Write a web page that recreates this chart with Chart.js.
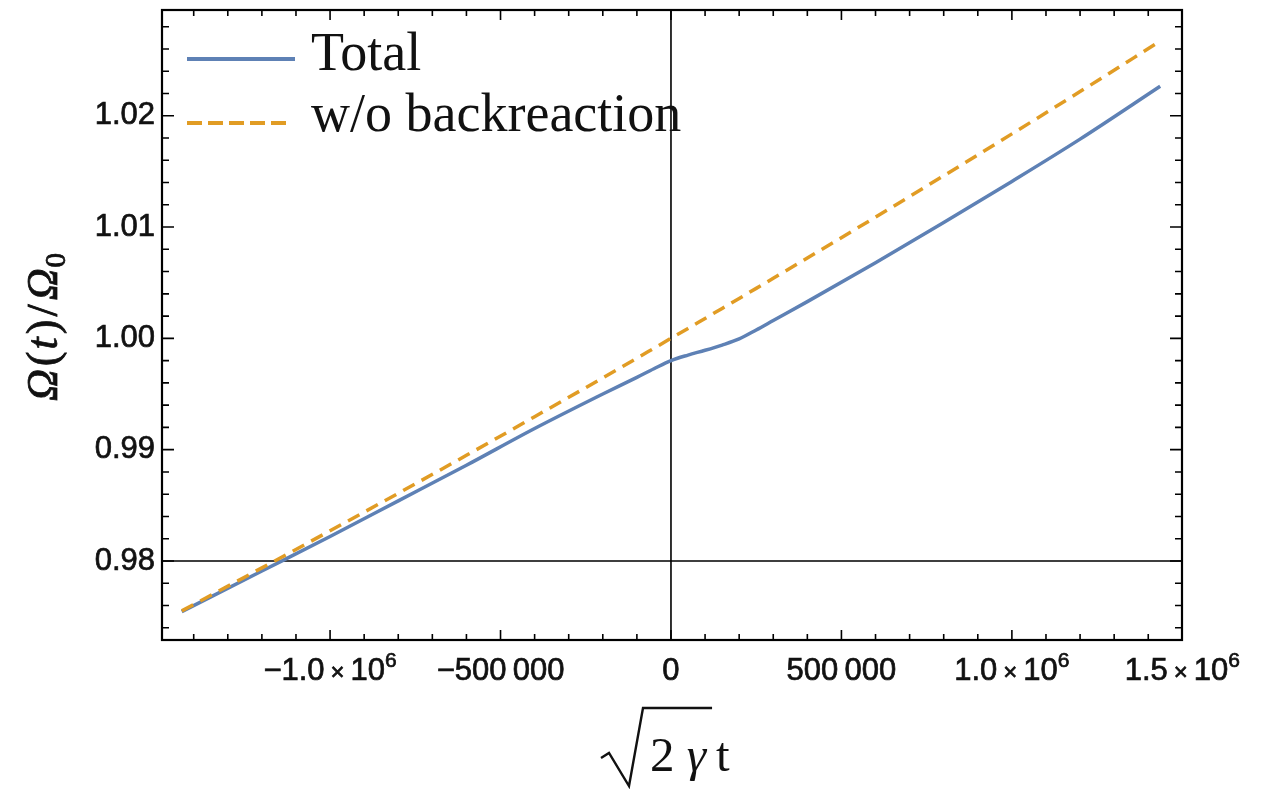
<!DOCTYPE html>
<html>
<head>
<meta charset="utf-8">
<script src="https://cdn.jsdelivr.net/npm/chart.js@4.4.1/dist/chart.umd.min.js"></script>
<style>
  html, body { margin: 0; padding: 0; background: #fff; }
  canvas { display: block; }
</style>
</head>
<body>
<canvas id="chart" width="1276" height="789"></canvas>
<script>
// values
const xValues = [-1435000, -1200000, -1000000, -800000, -600000, -400000, -200000, -100000, -50000, 0,
  50000, 100000, 150000, 200000, 250000, 300000, 400000, 600000, 800000, 1000000, 1200000, 1435000];
const totalValues = [0.97545, 0.97910, 0.98220, 0.98540, 0.98860, 0.99190, 0.99500, 0.99650, 0.99727, 0.99800,
  0.99850, 0.99893, 0.99940, 0.99995, 1.00075, 1.00160, 1.00330, 1.00680, 1.01040, 1.01410, 1.01790, 1.02265];
const noBackreactionValues = [0.97552, 0.97938, 0.98271, 0.98608, 0.98949, 0.99296, 0.99645, 0.99822, 0.99911, 1.00000,
  1.00089, 1.00179, 1.00269, 1.00359, 1.00449, 1.00540, 1.00722, 1.01089, 1.01461, 1.01837, 1.02217, 1.02670];

const seriesNames = ['Total', 'w/o backreaction'];
const seriesColors = ['#5E81B5', '#E19C24'];

const xMajorTicks = [-1000000, -500000, 0, 500000, 1000000, 1500000];
const xTickLabels = ['−1.0×10^6', '−500\u2009000', '0', '500\u2009000', '1.0×10^6', '1.5×10^6'];
const yMajorTicks = [0.98, 0.99, 1.00, 1.01, 1.02];
const yTickLabels = ['0.98', '0.99', '1.00', '1.01', '1.02'];

const xMin = -1493000, xMax = 1499000;
const yMin = 0.9729, yMax = 1.0295;

const xMinorTicks = [];
for (let k = -14; k <= 14; k++) if (k % 5) xMinorTicks.push(k * 100000);
const yMinorTicks = [];
for (let k = 487; k <= 514; k++) if (k % 5) yMinorTicks.push(k / 500);

const SANS = '"Liberation Sans", Arial, sans-serif';
const SERIF = '"Liberation Serif", "Times New Roman", serif';
const INK = '#111';

function toPoints(ys) {
  return xValues.map((x, i) => ({ x: x, y: ys[i] }));
}

// draws a row of text pieces centred on cx (with a thin stroke to thicken like the original)
function drawPieces(ctx, pieces, cx, baseY, stroke) {
  let w = 0;
  pieces.forEach(p => { ctx.font = p.font; p.w = ctx.measureText(p.t).width; w += p.w + (p.gap || 0); });
  let x = cx - w / 2;
  pieces.forEach(p => {
    ctx.font = p.font;
    ctx.fillText(p.t, x, baseY + (p.dy || 0));
    if (stroke) ctx.strokeText(p.t, x, baseY + (p.dy || 0));
    x += p.w + (p.gap || 0);
  });
}

const mmaFrame = {
  id: 'mmaFrame',
  beforeDatasetsDraw(chart) {
    const { ctx, chartArea: a, scales: { x, y } } = chart;
    ctx.save();
    ctx.strokeStyle = '#000';
    ctx.lineWidth = 1.6;
    const px = x.getPixelForValue(0);
    const py = y.getPixelForValue(0.98);
    ctx.beginPath();
    ctx.moveTo(px, a.top); ctx.lineTo(px, a.bottom);
    ctx.moveTo(a.left, py); ctx.lineTo(a.right, py);
    ctx.stroke();
    ctx.restore();
  },
  afterDraw(chart) {
    const { ctx, chartArea: a, scales: { x, y } } = chart;
    ctx.save();
    ctx.strokeStyle = '#000';

    // inward ticks on all four sides
    ctx.lineWidth = 1.6;
    ctx.beginPath();
    const xt = xMajorTicks.map(v => [v, 10]).concat(xMinorTicks.map(v => [v, 6]));
    xt.forEach(([v, len]) => {
      const p = x.getPixelForValue(v);
      if (p < a.left + 2 || p > a.right - 2) return;
      ctx.moveTo(p, a.bottom); ctx.lineTo(p, a.bottom - len);
      ctx.moveTo(p, a.top); ctx.lineTo(p, a.top + len);
    });
    const yt = yMajorTicks.map(v => [v, 12]).concat(yMinorTicks.map(v => [v, 7]));
    yt.forEach(([v, len]) => {
      const p = y.getPixelForValue(v);
      if (p < a.top + 2 || p > a.bottom - 2) return;
      ctx.moveTo(a.left, p); ctx.lineTo(a.left + len, p);
      ctx.moveTo(a.right, p); ctx.lineTo(a.right - len, p);
    });
    ctx.stroke();

    // frame
    ctx.lineWidth = 2.2;
    ctx.strokeRect(a.left, a.top, a.right - a.left, a.bottom - a.top);

    // x tick labels
    ctx.fillStyle = INK;
    ctx.strokeStyle = INK;
    ctx.lineWidth = 0.7;
    ctx.textBaseline = 'alphabetic';
    ctx.textAlign = 'left';
    xMajorTicks.forEach((v, i) => {
      const lab = xTickLabels[i];
      const cx = x.getPixelForValue(v);
      let pieces;
      if (lab.includes('×10^')) {
        const [mant, exp] = lab.split('×10^');
        pieces = [
          { t: mant, font: '31px ' + SANS, gap: 6 },
          { t: '×', font: '24px ' + SANS, gap: 6 },
          { t: '10', font: '31px ' + SANS },
          { t: exp, font: '21px ' + SANS, dy: -13 }
        ];
      } else {
        pieces = [{ t: lab, font: '31px ' + SANS }];
      }
      drawPieces(ctx, pieces, cx, 680, true);
    });

    // x axis title: sqrt(2 gamma) t
    ctx.font = '49px ' + SERIF;
    const w2 = ctx.measureText('2 ').width;
    ctx.fillText('2', 650, 771);
    ctx.font = 'italic 49px ' + SERIF;
    const wg = ctx.measureText('γ').width;
    ctx.fillText('γ', 650 + w2, 771);
    const barEnd = 650 + w2 + wg + 6;
    ctx.font = '49px ' + SERIF;
    ctx.fillText('t', barEnd + 4, 771);
    ctx.lineWidth = 2.4;
    ctx.lineJoin = 'miter';
    ctx.beginPath();
    ctx.moveTo(601, 758);
    ctx.lineTo(609, 753);
    ctx.lineTo(629, 786);
    ctx.lineTo(643, 708);
    ctx.lineTo(barEnd, 708);
    ctx.stroke();

    // y axis title: Omega(t)/Omega_0, rotated
    ctx.save();
    ctx.translate(57, 327);
    ctx.rotate(-Math.PI / 2);
    ctx.lineWidth = 0.8;
    drawPieces(ctx, [
      { t: 'Ω', font: 'italic 44px ' + SERIF, gap: 3 },
      { t: '(', font: '44px ' + SERIF, gap: 2 },
      { t: 't', font: 'italic 44px ' + SERIF, gap: 3 },
      { t: ')', font: '44px ' + SERIF, gap: 3 },
      { t: '/', font: '44px ' + SERIF, gap: 4 },
      { t: 'Ω', font: 'italic 44px ' + SERIF, gap: 1 },
      { t: '0', font: '29px ' + SERIF, dy: 8 }
    ], 0, 0, true);
    ctx.restore();

    // legend
    const rows = [{ y: 59, base: 70 }, { y: 123, base: 131 }];
    chart.data.datasets.forEach((ds, i) => {
      ctx.strokeStyle = ds.borderColor;
      ctx.lineWidth = 4;
      ctx.setLineDash(i === 1 ? [15, 6] : []);
      ctx.beginPath();
      ctx.moveTo(187, rows[i].y);
      ctx.lineTo(i === 1 ? 291 : 295, rows[i].y);
      ctx.stroke();
      ctx.setLineDash([]);
      ctx.fillStyle = INK;
      ctx.font = '54px ' + SERIF;
      ctx.fillText(ds.label, 311, rows[i].base);
    });
    ctx.restore();
  }
};

new Chart(document.getElementById('chart'), {
  type: 'line',
  data: {
    datasets: [
      {
        label: seriesNames[0],
        data: toPoints(totalValues),
        borderColor: seriesColors[0],
        borderWidth: 3.5,
        pointRadius: 0,
        cubicInterpolationMode: 'monotone',
        fill: false,
        order: 1
      },
      {
        label: seriesNames[1],
        data: toPoints(noBackreactionValues),
        borderColor: seriesColors[1],
        borderWidth: 3.5,
        borderDash: [13, 8],
        pointRadius: 0,
        cubicInterpolationMode: 'monotone',
        fill: false,
        order: 0
      }
    ]
  },
  options: {
    responsive: false,
    animation: false,
    events: [],
    layout: { padding: { top: 10, right: 94, left: 0, bottom: 0 } },
    plugins: { legend: { display: false }, tooltip: { enabled: false } },
    scales: {
      x: {
        type: 'linear',
        min: xMin,
        max: xMax,
        grid: { display: false, drawTicks: false, tickLength: 0 },
        border: { display: false },
        ticks: { display: false },
        afterBuildTicks: s => { s.ticks = xMajorTicks.map(v => ({ value: v })); },
        afterFit: s => { s.height = 149; s.paddingLeft = 0; s.paddingRight = 0; }
      },
      y: {
        type: 'linear',
        min: yMin,
        max: yMax,
        grid: { display: false, drawTicks: false, tickLength: 0 },
        border: { display: false },
        afterBuildTicks: s => {
          s.ticks = yMajorTicks.concat(yMinorTicks).sort((a, b) => a - b).map(v => ({ value: v }));
        },
        ticks: {
          autoSkip: false,
          padding: 7,
          color: INK,
          textStrokeColor: INK,
          textStrokeWidth: 0.7,
          font: { family: SANS, size: 31 },
          callback: v => {
            const i = yMajorTicks.findIndex(m => Math.abs(m - v) < 1e-9);
            return i >= 0 ? yTickLabels[i] : '';
          }
        },
        afterFit: s => { s.width = 162; s.paddingTop = 0; s.paddingBottom = 0; }
      }
    }
  },
  plugins: [mmaFrame]
});
</script>
</body>
</html>
